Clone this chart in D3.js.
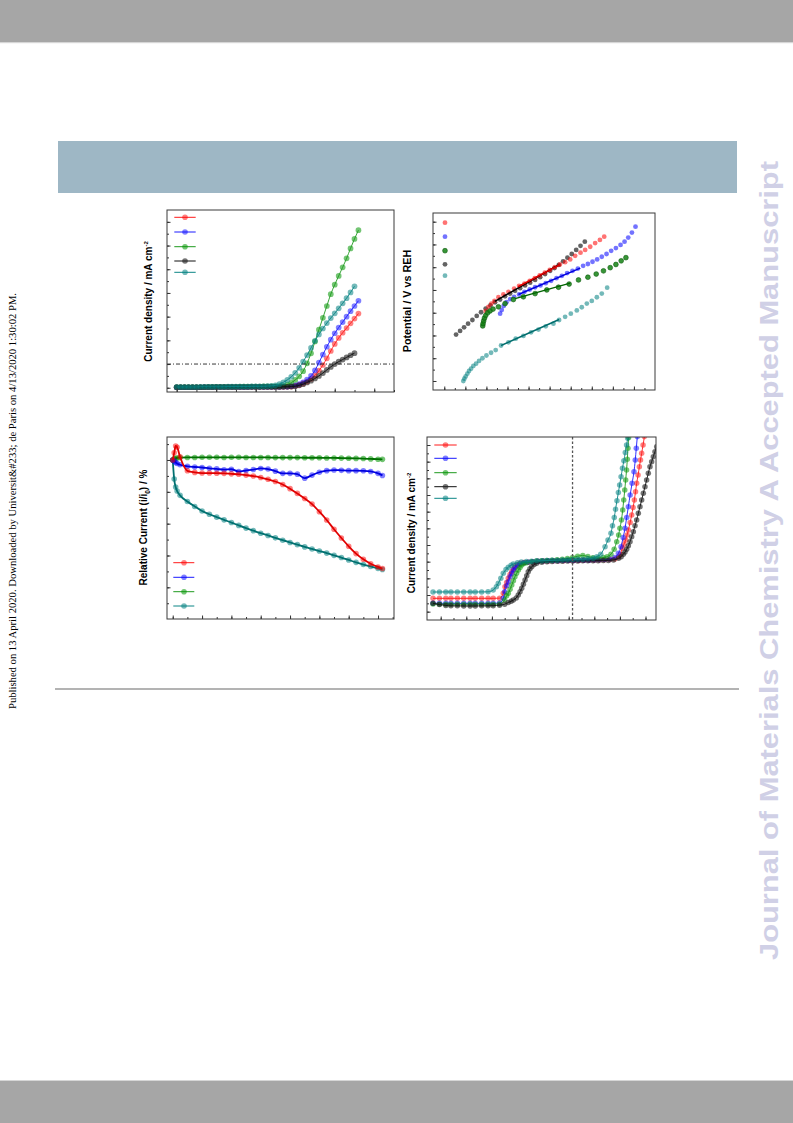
<!DOCTYPE html>
<html><head><meta charset="utf-8">
<script src="https://cdnjs.cloudflare.com/ajax/libs/d3/7.8.5/d3.min.js"></script>
<style>
  body { margin: 0; background: #fff; }
  .ttl { font-family: "Liberation Sans", Arial, sans-serif; font-weight: bold; fill: #000; }
</style>
</head><body>
<svg id="page" width="793" height="1123"></svg>
<script>
// ---------- panel 1 : OER polarisation curves ----------
var lsvPotential = [1.20,1.21,1.22,1.23,1.24,1.25,1.26,1.27,1.28,1.29,1.30,1.31,1.32,1.33,1.34,1.35,1.36,1.37,1.38,1.39,
  1.40,1.41,1.42,1.43,1.44,1.45,1.46,1.47,1.48,1.49,1.50,1.51,1.52,1.53,1.54,1.55,1.56,1.57,1.58,1.59,1.60,1.61,1.62,1.63,1.64,1.65,1.66];
var lsvRed   = [0.2,0.2,0.2,0.2,0.2,0.2,0.2,0.3,0.3,0.3,0.3,0.3,0.3,0.3,0.3,0.3,0.3,0.3,0.3,0.4,0.4,0.4,0.4,0.4,0.4,
  0.4,0.4,0.4,0.5,0.5,0.8,1.2,1.8,2.6,3.7,5.2,7.2,9.6,12.4,15.5,18.5,21.0,23.2,25.2,27.2,29.2,31.3];
var lsvBlue  = [0.2,0.2,0.2,0.2,0.2,0.2,0.2,0.3,0.3,0.3,0.3,0.3,0.3,0.3,0.3,0.3,0.3,0.3,0.3,0.4,0.4,0.4,0.4,0.4,0.4,
  0.4,0.4,0.5,0.5,0.7,1.0,1.5,2.3,3.4,5.0,7.3,10.6,14.0,17.3,20.3,23.0,25.4,27.7,30.0,32.3,34.5,36.7];
var lsvGreen = [0.3,0.3,0.3,0.3,0.3,0.3,0.3,0.3,0.4,0.4,0.4,0.4,0.4,0.4,0.4,0.4,0.5,0.5,0.5,0.5,0.5,0.5,0.6,0.6,0.6,
  0.6,0.7,0.8,1.3,2.1,3.3,4.8,7.0,10.3,14.5,19.5,24.5,29.5,34.5,39.5,43.5,47.2,50.8,54.6,58.8,62.8,66.5];
var lsvGray  = [0.2,0.2,0.2,0.2,0.2,0.2,0.2,0.2,0.2,0.2,0.3,0.3,0.3,0.3,0.3,0.3,0.3,0.3,0.3,0.3,0.3,0.3,0.3,0.3,0.3,
  0.3,0.3,0.4,0.4,0.5,0.6,1.0,1.5,2.2,3.0,3.9,5.0,6.2,7.5,8.8,10.0,11.0,11.9,12.8,13.7,14.6];
var lsvTeal  = [0.3,0.3,0.3,0.3,0.3,0.3,0.4,0.4,0.4,0.4,0.4,0.4,0.4,0.5,0.5,0.5,0.5,0.5,0.5,0.6,0.6,0.6,0.6,0.7,0.8,
  1.0,1.5,2.3,3.3,4.6,6.3,8.4,11.0,13.8,16.8,19.8,22.5,25.0,27.3,29.4,31.4,33.5,35.6,37.8,40.2,42.8];
var lsvRefCurrent = 10;
var lsvXTicks = [1.20,1.25,1.30,1.35,1.40,1.45,1.50,1.55,1.60,1.65,1.70,1.75];
var lsvXMajor = [1.20,1.30,1.40,1.50,1.60,1.70];
var lsvYTicks = [0,5,10,15,20,25,30,35,40,45,50,55,60,65,70];
var lsvYMajor = [0,10,20,30,40,50,60,70];

// ---------- panel 2 : Tafel plots ----------
var tafelRed = [[-0.607,1.554],[-0.581,1.563],[-0.553,1.570],[-0.524,1.576],[-0.486,1.584],[-0.439,1.590],[-0.391,1.596],
  [-0.337,1.603],[-0.290,1.609],[-0.239,1.614],[-0.189,1.620],[-0.141,1.626],[-0.094,1.632],[-0.046,1.638],[0.001,1.644],
  [0.049,1.650],[0.097,1.656],[0.147,1.661],[0.195,1.667],[0.242,1.675],[0.293,1.682],[0.337,1.688],[0.385,1.695],
  [0.432,1.703],[0.477,1.710],[0.518,1.717]];
var tafelBlue = [[-0.470,1.548],[-0.455,1.556],[-0.436,1.565],[-0.410,1.573],[-0.375,1.580],[-0.337,1.585],[-0.290,1.590],
  [-0.239,1.596],[-0.189,1.601],[-0.138,1.606],[-0.087,1.610],[-0.037,1.615],[0.014,1.620],[0.065,1.626],[0.116,1.631],
  [0.166,1.637],[0.217,1.642],[0.268,1.647],[0.318,1.653],[0.363,1.657],[0.407,1.662],[0.451,1.667],[0.495,1.673],
  [0.540,1.679],[0.584,1.686],[0.629,1.692],[0.673,1.699],[0.711,1.706],[0.746,1.715],[0.781,1.726],[0.815,1.739]];
var tafelGreen = [[-0.635,1.521],[-0.632,1.526],[-0.626,1.532],[-0.619,1.538],[-0.607,1.544],[-0.588,1.550],[-0.565,1.554],
  [-0.537,1.558],[-0.486,1.563],[-0.423,1.570],[-0.344,1.579],[-0.249,1.585],[-0.138,1.592],[-0.027,1.600],[0.084,1.606],
  [0.185,1.613],[0.274,1.622],[0.363,1.628],[0.442,1.635],[0.511,1.642],[0.575,1.649],[0.629,1.656],[0.679,1.664],[0.724,1.671]];
var tafelGray = [[-0.888,1.502],[-0.850,1.510],[-0.812,1.518],[-0.774,1.526],[-0.733,1.534],[-0.692,1.543],[-0.651,1.551],
  [-0.607,1.559],[-0.562,1.566],[-0.518,1.573],[-0.470,1.579],[-0.423,1.586],[-0.375,1.592],[-0.328,1.598],[-0.280,1.604],
  [-0.233,1.610],[-0.185,1.616],[-0.138,1.622],[-0.090,1.628],[-0.043,1.635],[0.005,1.642],[0.046,1.648],[0.087,1.655],
  [0.128,1.663],[0.169,1.671],[0.210,1.679],[0.252,1.688],[0.293,1.697],[0.334,1.706]];
var tafelTeal = [[-0.819,1.400],[-0.809,1.405],[-0.797,1.410],[-0.781,1.416],[-0.765,1.422],[-0.746,1.427],[-0.724,1.433],
  [-0.698,1.438],[-0.670,1.444],[-0.638,1.450],[-0.600,1.456],[-0.556,1.462],[-0.512,1.468],[-0.461,1.478],[-0.391,1.485],
  [-0.322,1.493],[-0.249,1.499],[-0.176,1.507],[-0.106,1.513],[-0.037,1.520],[0.036,1.526],[0.090,1.534],[0.147,1.541],
  [0.201,1.548],[0.258,1.555],[0.305,1.562],[0.353,1.570],[0.400,1.576],[0.448,1.584],[0.495,1.592],[0.546,1.605]];
var fitGray  = [[-0.52,1.575],[0.085,1.655]];
var fitRed   = [[-0.30,1.607],[0.10,1.656]];
var fitBlue  = [[-0.296,1.590],[0.290,1.648]];
var fitGreen = [[-0.328,1.581],[0.195,1.615]];
var fitTeal  = [[-0.461,1.478],[0.090,1.535]];
var tafelXTicks = [-1.0,-0.9,-0.8,-0.7,-0.6,-0.5,-0.4,-0.3,-0.2,-0.1,0,0.1,0.2,0.3,0.4,0.5,0.6,0.7,0.8,0.9];
var tafelXMajor = [-1.0,-0.8,-0.6,-0.4,-0.2,0,0.2,0.4,0.6,0.8];
var tafelYTicks = [1.400,1.425,1.450,1.475,1.500,1.525,1.550,1.575,1.600,1.625,1.650,1.675,1.700,1.725,1.750];
var tafelYMajor = [1.40,1.45,1.50,1.55,1.60,1.65,1.70,1.75];

// ---------- panel 3 : chronoamperometric stability ----------
var stabTime  = [0,0.1,0.2,0.3,0.5,1,1.5,2,2.5,3,3.5,4,4.5,5,5.5,6,6.5,7,7.5,8,8.5,9,9.5,10,10.5,11,11.5,12,12.5,13,13.5,14,14.3];
var stabRed   = [100,104.5,108.8,108.0,102.0,93.2,92.2,91.8,91.8,91.7,91.6,91.3,91.0,90.5,89.9,89.0,87.9,86.5,84.6,82.0,
  79.0,75.8,72.3,67.5,62.3,56.5,51.0,45.8,41.2,37.6,34.8,32.8,31.8];
var stabBlue  = [100,99.3,98.5,97.8,97.0,96.0,95.6,95.3,94.8,94.4,93.9,94.2,92.8,93.4,94.0,94.7,94.3,93.0,91.6,91.6,
  91.1,88.6,90.5,92.3,93.3,93.7,93.5,93.3,93.3,93.2,92.8,91.6,90.3];
var stabGreen = [100,100.6,101.1,101.3,101.5,101.6,101.6,101.7,101.7,101.7,101.6,101.7,101.7,101.6,101.6,101.6,101.6,101.5,
  101.5,101.5,101.5,101.4,101.4,101.4,101.3,101.3,101.2,101.1,101.0,100.9,100.7,100.5,100.4];
var stabTeal  = [100,88,83,80.5,77.8,73.9,70.8,68.0,65.9,64.1,62.4,60.7,58.9,57.2,55.6,54.0,52.6,51.1,49.6,48.2,
  46.8,45.4,44.1,42.8,41.5,40.1,38.7,37.2,35.7,34.3,33.1,31.9,31.2];
var stabXTicks = [0,1,2,3,4,5,6,7,8,9,10,11,12,13,14,15];
var stabXMajor = [0,2,4,6,8,10,12,14];
var stabYTicks = [10,20,30,40,50,60,70,80,90,100,110];
var stabYMajor = [20,40,60,80,100];

// ---------- panel 4 : ORR / OER bifunctional curves ----------
var ldRed = [[0.14,-4.4],[0.19,-4.4],[0.24,-4.4],[0.28,-4.4],[0.33,-4.4],[0.38,-4.4],[0.43,-4.4],[0.47,-4.4],[0.52,-4.4],
  [0.57,-4.4],[0.61,-4.4],[0.66,-4.38],[0.689,-3.8],[0.702,-3.0],[0.715,-2.5],[0.728,-2.0],[0.742,-1.55],[0.755,-1.2],
  [0.768,-0.9],[0.78,-0.6],[0.80,-0.38],[0.82,-0.2],[0.85,-0.1],[0.884,-0.07],[0.92,0.0],[0.96,0.04],[1.00,0.07],
  [1.04,0.09],[1.08,0.1],[1.12,0.11],[1.16,0.12],[1.20,0.13],[1.24,0.14],[1.28,0.15],[1.32,0.16],[1.36,0.17],[1.40,0.18],
  [1.44,0.2],[1.48,0.22],[1.52,0.26],[1.56,0.32],[1.59,0.55],[1.605,0.9],[1.619,1.6],[1.632,2.1],[1.645,2.6],[1.656,3.2],
  [1.666,3.8],[1.68,4.7],[1.692,5.6],[1.703,6.5],[1.713,7.4],[1.722,8.4],[1.731,9.4],[1.742,10.4],[1.752,11.4],
  [1.761,12.2],[1.770,13.0],[1.781,14.0],[1.791,15.0],[1.80,16.0]];
var ldBlue = [[0.14,-5.0],[0.19,-5.0],[0.24,-5.0],[0.28,-5.0],[0.33,-5.0],[0.38,-5.0],[0.43,-5.0],[0.47,-5.0],[0.52,-5.0],
  [0.57,-5.0],[0.61,-5.0],[0.66,-4.95],[0.689,-4.4],[0.70,-3.6],[0.715,-2.9],[0.728,-2.4],[0.742,-1.8],[0.755,-1.4],
  [0.768,-1.0],[0.78,-0.72],[0.80,-0.45],[0.82,-0.28],[0.85,-0.14],[0.884,-0.08],[0.92,0.0],[0.96,0.05],[1.00,0.08],
  [1.04,0.1],[1.08,0.1],[1.12,0.12],[1.16,0.13],[1.20,0.14],[1.24,0.15],[1.28,0.16],[1.32,0.17],[1.36,0.18],[1.40,0.2],
  [1.44,0.22],[1.48,0.25],[1.52,0.32],[1.56,0.5],[1.588,1.0],[1.609,1.8],[1.625,2.9],[1.64,4.0],[1.653,5.3],[1.666,6.6],
  [1.68,8.0],[1.695,9.4],[1.71,10.8],[1.72,12.2],[1.728,13.6],[1.736,15.0],[1.742,16.0]];
var ldGreen = [[0.14,-5.08],[0.19,-5.1],[0.24,-5.1],[0.28,-5.1],[0.33,-5.1],[0.38,-5.1],[0.43,-5.1],[0.47,-5.1],[0.52,-5.1],
  [0.57,-5.1],[0.61,-5.1],[0.66,-5.08],[0.70,-4.6],[0.715,-4.1],[0.728,-3.8],[0.742,-3.3],[0.755,-2.8],[0.768,-2.3],
  [0.78,-1.8],[0.793,-1.4],[0.807,-1.0],[0.82,-0.7],[0.833,-0.4],[0.85,-0.22],[0.872,-0.12],[0.91,0.0],[0.95,0.08],
  [0.99,0.12],[1.03,0.15],[1.07,0.18],[1.11,0.22],[1.15,0.28],[1.19,0.38],[1.23,0.5],[1.27,0.65],[1.31,0.75],[1.35,0.62],
  [1.39,0.48],[1.43,0.45],[1.47,0.5],[1.50,0.6],[1.53,0.9],[1.555,1.5],[1.575,2.4],[1.59,3.2],[1.60,4.0],[1.612,5.0],
  [1.622,6.2],[1.63,7.4],[1.638,8.6],[1.645,9.8],[1.652,11.0],[1.658,12.3],[1.663,13.6],[1.668,14.9],[1.672,16.0]];
var ldGray = [[0.14,-5.0],[0.19,-5.15],[0.24,-5.25],[0.28,-5.3],[0.33,-5.3],[0.38,-5.32],[0.43,-5.32],[0.47,-5.32],
  [0.52,-5.3],[0.57,-5.3],[0.61,-5.28],[0.66,-5.22],[0.70,-5.1],[0.728,-4.9],[0.75,-4.75],[0.767,-4.6],[0.79,-4.35],
  [0.806,-4.0],[0.82,-3.6],[0.833,-3.2],[0.846,-2.7],[0.859,-2.2],[0.872,-1.7],[0.884,-1.2],[0.897,-0.85],[0.911,-0.6],
  [0.93,-0.35],[0.95,-0.2],[0.99,-0.07],[1.03,0.0],[1.07,0.03],[1.11,0.05],[1.15,0.06],[1.19,0.07],[1.23,0.08],
  [1.27,0.09],[1.31,0.1],[1.35,0.1],[1.39,0.11],[1.43,0.12],[1.47,0.13],[1.51,0.15],[1.55,0.2],[1.59,0.4],[1.61,0.6],
  [1.627,0.9],[1.64,1.15],[1.653,1.5],[1.666,1.9],[1.679,2.4],[1.692,3.0],[1.705,3.6],[1.718,4.3],[1.731,5.0],
  [1.744,5.8],[1.757,6.6],[1.770,7.4],[1.783,8.2],[1.796,9.0],[1.809,9.8],[1.822,10.6],[1.835,11.4],[1.848,12.0],
  [1.861,12.6],[1.874,13.2],[1.887,13.8]];
var ldTeal = [[0.14,-3.64],[0.19,-3.64],[0.24,-3.63],[0.28,-3.64],[0.33,-3.64],[0.38,-3.63],[0.43,-3.64],[0.47,-3.64],
  [0.52,-3.63],[0.57,-3.62],[0.61,-3.4],[0.635,-3.0],[0.65,-2.6],[0.67,-2.0],[0.689,-1.4],[0.71,-0.95],[0.728,-0.67],
  [0.75,-0.42],[0.767,-0.28],[0.80,-0.12],[0.83,-0.05],[0.87,0.02],[0.91,0.06],[0.95,0.1],[0.99,0.12],[1.03,0.14],
  [1.07,0.16],[1.11,0.18],[1.15,0.2],[1.19,0.22],[1.23,0.25],[1.27,0.28],[1.31,0.3],[1.35,0.34],[1.39,0.42],[1.42,0.6],
  [1.45,0.9],[1.484,1.8],[1.507,2.6],[1.53,3.4],[1.542,4.3],[1.556,5.3],[1.566,6.3],[1.577,7.3],[1.588,8.3],[1.598,9.2],
  [1.609,10.2],[1.62,11.2],[1.631,12.1],[1.642,13.1],[1.652,14.0],[1.661,14.8],[1.668,15.6]];
var ldReversible = 1.23;
var ldXTicks = [0.2,0.3,0.4,0.5,0.6,0.7,0.8,0.9,1.0,1.1,1.2,1.3,1.4,1.5,1.6,1.7,1.8];
var ldXMajor = [0.2,0.4,0.6,0.8,1.0,1.2,1.4,1.6,1.8];
var ldYTicks = [-6,-5,-4,-3,-2,-1,0,1,2,3,4,5,6,7,8,9,10,11,12,13,14];
var ldYMajor = [-6,-4,-2,0,2,4,6,8,10,12,14];

// colours
var col = {
  red:   {mk: "rgba(255,0,0,0.5)",     ln: "#ff1a1a", dk: "#e00000"},
  blue:  {mk: "rgba(0,0,255,0.5)",     ln: "#1a1aff", dk: "#0000e0"},
  green: {mk: "rgba(0,150,0,0.55)",    ln: "#1f9a1f", dk: "#007000"},
  gray:  {mk: "rgba(30,30,30,0.62)",   ln: "#111111", dk: "#000000"},
  teal:  {mk: "rgba(0,128,128,0.55)",  ln: "#0a8585", dk: "#007070"}
};

var svg = d3.select("#page");
svg.append("rect").attr("width", 793).attr("height", 1123).attr("fill", "#fff");

// page furniture
svg.append("rect").attr("x", 0).attr("y", 0).attr("width", 793).attr("height", 42).attr("fill", "#a6a6a6");
svg.append("rect").attr("x", 0).attr("y", 42).attr("width", 793).attr("height", 1.2).attr("fill", "#d6d6d6");
svg.append("rect").attr("x", 0).attr("y", 1080).attr("width", 793).attr("height", 1.2).attr("fill", "#d6d6d6");
svg.append("rect").attr("x", 0).attr("y", 1081).attr("width", 793).attr("height", 42).attr("fill", "#a6a6a6");
svg.append("rect").attr("x", 58).attr("y", 141).attr("width", 679).attr("height", 52).attr("fill", "#9eb7c5");
svg.append("line").attr("x1", 55).attr("x2", 739).attr("y1", 689).attr("y2", 689)
  .attr("stroke", "#9a9a9a").attr("stroke-width", 1.3);

svg.append("text")
  .attr("transform", "translate(16,709) rotate(-90)")
  .attr("font-family", "'Liberation Serif','Times New Roman',serif")
  .attr("font-size", 9.5)
  .attr("textLength", 416).attr("lengthAdjust", "spacingAndGlyphs")
  .text("Published on 13 April 2020. Downloaded by Universit&#233; de Paris on 4/13/2020 1:30:02 PM.");

svg.append("text")
  .attr("transform", "translate(778,960) rotate(-90)")
  .attr("font-family", "'Liberation Sans',Arial,sans-serif")
  .attr("font-weight", "bold").attr("font-size", 26).attr("fill", "#d0d0e6")
  .attr("textLength", 799).attr("lengthAdjust", "spacingAndGlyphs")
  .text("Journal of Materials Chemistry A Accepted Manuscript");

// ---------- helpers ----------
function makePanel(c) {
  var g = svg.append("g");
  var x = d3.scaleLinear().domain(c.xDomain).range([c.left, c.right]);
  var y = d3.scaleLinear().domain(c.yDomain).range([c.bottom, c.top]);
  svg.append("clipPath").attr("id", "clip" + c.name).append("rect")
    .attr("x", c.left).attr("y", c.top).attr("width", c.right - c.left).attr("height", c.bottom - c.top);
  var plot = g.append("g").attr("clip-path", "url(#clip" + c.name + ")");

  function ax(axis, tr) {
    g.append("g").attr("transform", tr).attr("color", "#333").call(axis)
      .call(function (s) { s.select(".domain").remove(); });
  }
  ax(d3.axisBottom(x).tickValues(c.xTicks).tickSize(-2).tickFormat(""), "translate(0," + c.bottom + ")");
  ax(d3.axisBottom(x).tickValues(c.xMajor).tickSize(-3.5).tickFormat(""), "translate(0," + c.bottom + ")");
  ax(d3.axisLeft(y).tickValues(c.yTicks).tickSize(-2).tickFormat(""), "translate(" + c.left + ",0)");
  ax(d3.axisLeft(y).tickValues(c.yMajor).tickSize(-3.5).tickFormat(""), "translate(" + c.left + ",0)");
  return {g: g, plot: plot, x: x, y: y, c: c};
}

function frame(p) {
  p.g.append("rect").attr("x", p.c.left).attr("y", p.c.top)
    .attr("width", p.c.right - p.c.left).attr("height", p.c.bottom - p.c.top)
    .attr("fill", "none").attr("stroke", "#3a3a3a").attr("stroke-width", 1);
}

function series(p, pts, color, r, lineColor, lw) {
  var layer = p.plot.append("g");
  layer.selectAll("circle").data(pts).enter().append("circle")
    .attr("cx", function (d) { return p.x(d[0]); })
    .attr("cy", function (d) { return p.y(d[1]); })
    .attr("r", r).attr("fill", color);
  if (lineColor) {
    var line = d3.line().curve(d3.curveMonotoneX)
      .x(function (d) { return p.x(d[0]); }).y(function (d) { return p.y(d[1]); });
    layer.append("path").datum(pts).attr("d", line)
      .attr("fill", "none").attr("stroke", lineColor).attr("stroke-width", lw);
  }
}

function pair(xs, ys) { return ys.map(function (v, i) { return [xs[i], v]; }); }

function legend(p, items, o) {
  items.forEach(function (it, i) {
    var yy = o.ys[i];
    if (o.x1 !== undefined) {
      p.g.append("line").attr("x1", o.x1).attr("x2", o.x2).attr("y1", yy).attr("y2", yy)
        .attr("stroke", it.ln).attr("stroke-width", 1);
    }
    p.g.append("circle").attr("cx", o.cx).attr("cy", yy).attr("r", o.r).attr("fill", it.mk)
      .attr("stroke", it.st || "none").attr("stroke-width", 0.6);
  });
}

function title(cx, cy, size, parts) {
  var t = svg.append("text").attr("class", "ttl")
    .attr("transform", "translate(" + cx + "," + cy + ") rotate(-90)")
    .attr("text-anchor", "middle").attr("font-size", size);
  parts.forEach(function (pt) {
    var s = t.append("tspan").text(pt.t);
    if (pt.size) s.attr("font-size", pt.size);
    if (pt.dy) s.attr("dy", pt.dy);
  });
}

// ---------- panel 1 ----------
var p1 = makePanel({name: "a", left: 167, right: 394, top: 210, bottom: 392,
  xDomain: [1.1755, 1.75], yDomain: [-1.8, 75],
  xTicks: lsvXTicks, xMajor: lsvXMajor, yTicks: lsvYTicks, yMajor: lsvYMajor});
p1.g.append("line").attr("x1", 167).attr("x2", 394).attr("y1", p1.y(lsvRefCurrent)).attr("y2", p1.y(lsvRefCurrent))
  .attr("stroke", "#222").attr("stroke-width", 0.9).attr("stroke-dasharray", "4,2,1,2");
[[lsvRed, col.red], [lsvBlue, col.blue], [lsvGreen, col.green], [lsvGray, col.gray], [lsvTeal, col.teal]]
  .forEach(function (s) { series(p1, pair(lsvPotential, s[0]), s[1].mk, 2.85, s[1].ln, 0.9); });
frame(p1);
legend(p1, [col.red, col.blue, col.green, col.gray, col.teal],
  {x1: 174.3, x2: 195.7, cx: 185, r: 2.8, ys: [217.3, 232, 246.7, 261, 272.3]});
title(152, 301.5, 10, [{t: "Current density / mA cm"}, {t: "-2", size: 6, dy: -4}]);

// ---------- panel 2 ----------
var p2 = makePanel({name: "b", left: 433, right: 655, top: 213, bottom: 390,
  xDomain: [-1.107, 1.0], yDomain: [1.3802, 1.7691],
  xTicks: tafelXTicks, xMajor: tafelXMajor, yTicks: tafelYTicks, yMajor: tafelYMajor});
var tafelGreenMk = "rgba(20,130,20,0.85)";
series(p2, tafelGray, "rgba(40,40,40,0.72)", 2.4);
series(p2, tafelRed, "rgba(255,0,0,0.55)", 2.4);
series(p2, tafelBlue, "rgba(0,0,255,0.55)", 2.4);
series(p2, tafelGreen, tafelGreenMk, 2.4);
p2.plot.selectAll("circle").filter(function () { return d3.select(this).attr("fill") === tafelGreenMk; })
  .attr("stroke", "#0b5a0b").attr("stroke-width", 0.6);
series(p2, tafelTeal, "rgba(0,128,128,0.55)", 2.4);
var fitLine = d3.line().x(function (d) { return p2.x(d[0]); }).y(function (d) { return p2.y(d[1]); });
[[fitGray, "#000"], [fitRed, "#e00000"], [fitBlue, "#0000dd"], [fitGreen, "#006400"], [fitTeal, "#006d6d"]]
  .forEach(function (f) {
    p2.plot.append("path").datum(f[0]).attr("d", fitLine).attr("fill", "none")
      .attr("stroke", f[1]).attr("stroke-width", 1.5);
  });
frame(p2);
legend(p2, [{mk: "rgba(255,0,0,0.55)"}, {mk: "rgba(0,0,255,0.55)"}, {mk: tafelGreenMk, st: "#0b5a0b"},
  {mk: "rgba(40,40,40,0.72)"}, {mk: "rgba(0,128,128,0.55)"}],
  {cx: 445, r: 2.4, ys: [222.7, 236.7, 250.7, 264.3, 275.7]});
title(410.5, 301, 10.8, [{t: "Potential / V vs REH"}]);

// ---------- panel 3 ----------
var p3 = makePanel({name: "c", left: 167, right: 394, top: 437, bottom: 619,
  xDomain: [-0.39, 15.09], yDomain: [0.1, 114.45],
  xTicks: stabXTicks, xMajor: stabXMajor, yTicks: stabYTicks, yMajor: stabYMajor});
[[stabTeal, col.teal], [stabGreen, col.green], [stabBlue, col.blue], [stabRed, col.red]]
  .forEach(function (s) { series(p3, pair(stabTime, s[0]), s[1].mk, 2.8, s[1].dk, 1.8); });
frame(p3);
legend(p3, [col.red, col.blue, col.green, col.teal],
  {x1: 173.3, x2: 194.3, cx: 184, r: 2.8, ys: [562.7, 577.3, 591.7, 606]});
title(147, 527.5, 10, [{t: "Relative Current (i/i"}, {t: "0", size: 6.5, dy: 2.5}, {t: ") / %", dy: -2.5}]);

// ---------- panel 4 ----------
var p4 = makePanel({name: "d", left: 427, right: 656, top: 437, bottom: 620,
  xDomain: [0.093, 1.882], yDomain: [-7.0, 14.96],
  xTicks: ldXTicks, xMajor: ldXMajor, yTicks: ldYTicks, yMajor: ldYMajor});
[[ldRed, col.red], [ldBlue, col.blue], [ldGreen, col.green], [ldGray, col.gray], [ldTeal, col.teal]]
  .forEach(function (s) { series(p4, s[0], s[1].mk, 2.75, s[1].ln, 0.9); });
p4.g.append("line").attr("x1", p4.x(ldReversible)).attr("x2", p4.x(ldReversible)).attr("y1", 437).attr("y2", 620)
  .attr("stroke", "#555").attr("stroke-width", 1.3).attr("stroke-dasharray", "2.5,2");
frame(p4);
legend(p4, [col.red, col.blue, col.green, col.gray, col.teal],
  {x1: 434.3, x2: 456.7, cx: 445.5, r: 2.8, ys: [445, 458.3, 472.7, 486.7, 498.3]});
title(415, 533, 10, [{t: "Current density / mA cm"}, {t: "-2", size: 6, dy: -4}]);
</script>
</body></html>
